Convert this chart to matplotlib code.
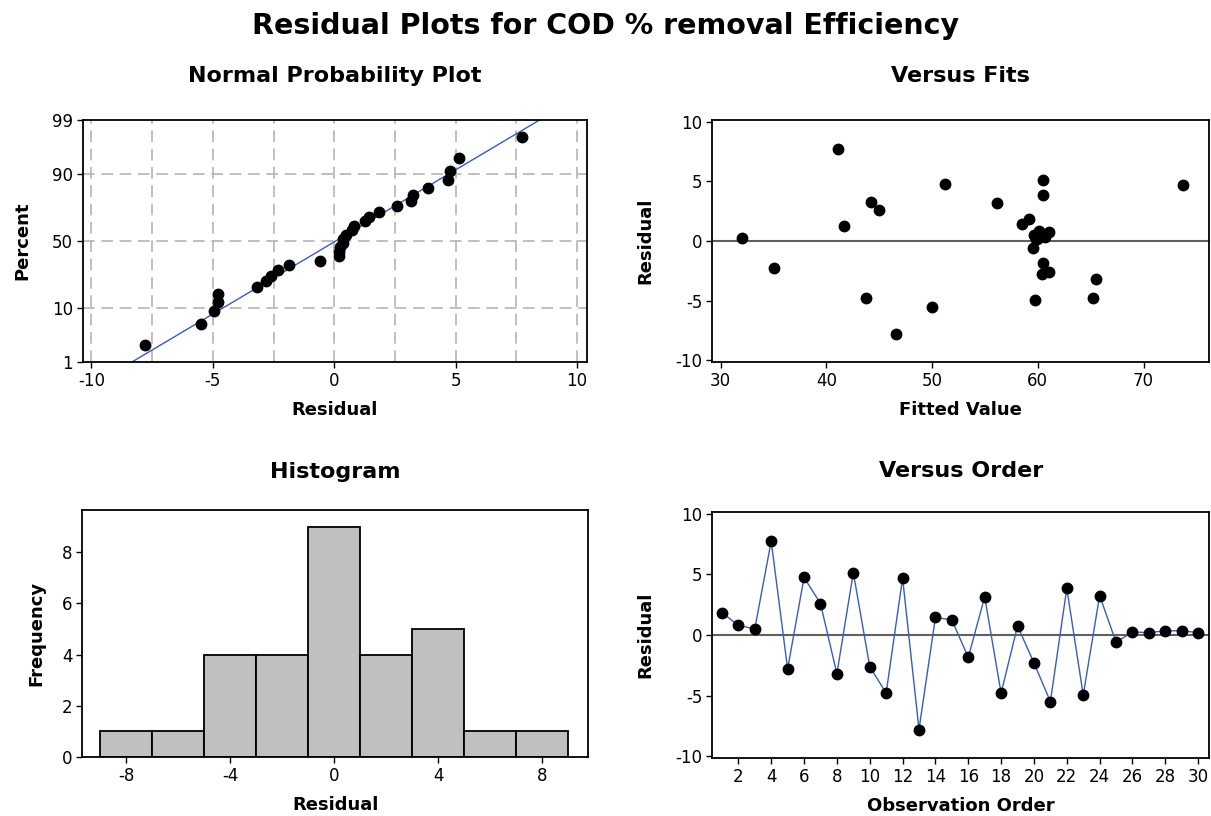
import numpy as np
import matplotlib
matplotlib.use("Agg")
import matplotlib.pyplot as plt
from matplotlib.ticker import NullLocator, FixedLocator
from statistics import NormalDist

# Residuals in observation order and the matching fitted values
residuals = [1.85, 0.8, 0.5, 7.75, -2.8, 4.75, 2.6, -3.2, 5.15, -2.6,
             -4.8, 4.7, -7.8, 1.45, 1.25, -1.85, 3.15, -4.8, 0.75, -2.3,
             -5.5, 3.85, -4.95, 3.25, -0.6, 0.25, 0.2, 0.35, 0.35, 0.2]
fitted = [59.2, 60.1, 59.6, 41.1, 60.4, 51.2, 45.0, 65.5, 60.5, 61.05,
          43.8, 73.7, 46.6, 58.5, 41.7, 60.5, 56.1, 65.2, 61.05, 35.1,
          49.96, 60.5, 59.7, 44.2, 59.5, 32.07, 59.8, 60.2, 60.7, 59.9]
hist_bins = [-9, -7, -5, -3, -1, 1, 3, 5, 7, 9]
pct_ticks = [1, 10, 50, 90, 99]

res = np.array(residuals)
fit = np.array(fitted)
n = len(res)
order = np.arange(1, n + 1)

plt.rcParams["font.family"] = "DejaVu Sans"
plt.rcParams["axes.unicode_minus"] = False
LINE_BLUE = "#3a5bc0"

fig = plt.figure(figsize=(12.11, 8.16), dpi=100)
fig.text(0.5, 0.968, "Residual Plots for COD % removal Efficiency",
         ha="center", va="center", fontsize=20.5, fontweight="bold")


def set_ticks(ax, axis, values):
    labels_ = [str(int(v)) for v in values]
    if axis == "x":
        ax.set_xticks(values)
        ax.set_xticklabels(labels_)
    else:
        ax.set_yticks(values)
        ax.set_yticklabels(labels_)


def style(ax):
    for s in ax.spines.values():
        s.set_linewidth(1.3)
        s.set_color("black")
    ax.tick_params(direction="out", length=4, width=1, labelsize=12,
                   top=False, right=False, pad=3)


def labels(ax, title, xl, yl, tpad=27, ypad=16):
    ax.set_title(title, fontsize=16, fontweight="bold", pad=tpad)
    ax.set_xlabel(xl, fontsize=13, fontweight="bold", labelpad=8)
    ax.set_ylabel(yl, fontsize=13, fontweight="bold", labelpad=ypad)


# ---------- Normal probability plot ----------
nd = NormalDist()


def fwd(p):
    p = np.clip(np.asarray(p, dtype=float), 1e-9, 100 - 1e-9)
    return np.vectorize(lambda v: nd.inv_cdf(v / 100.0), otypes=[float])(p)


def inv(z):
    z = np.asarray(z, dtype=float)
    return np.vectorize(lambda v: nd.cdf(v) * 100.0, otypes=[float])(z)


ax1 = fig.add_axes([0.0685, 0.5564, 0.416, 0.2966])
ax1.set_yscale("function", functions=(fwd, inv))
sorted_res = np.sort(res)
pct = (np.arange(1, n + 1) - 0.3) / (n + 0.4) * 100
mu, sd = res.mean(), res.std(ddof=1)
p_line = np.linspace(1, 99, 200)
x_line = mu + sd * np.array([nd.inv_cdf(p / 100) for p in p_line])
for xv in np.arange(-10, 10.01, 2.5):
    ax1.axvline(xv, color="#b4b4b4", lw=1.2, dashes=(7, 4), zorder=0)
for yv in [10, 50, 90]:
    ax1.axhline(yv, color="#b4b4b4", lw=1.2, dashes=(7, 4), zorder=0)
ax1.plot(x_line, p_line, color=LINE_BLUE, lw=1, zorder=2)
ax1.plot(sorted_res, pct, "o", color="black", ms=7.5, zorder=3)
ax1.set_xlim(-10.35, 10.4)
ax1.set_ylim(1, 99)
ax1.yaxis.set_major_locator(FixedLocator(pct_ticks))
ax1.yaxis.set_minor_locator(NullLocator())
ax1.set_yticklabels([str(t) for t in pct_ticks])
set_ticks(ax1, "x", [-10, -5, 0, 5, 10])
style(ax1)
labels(ax1, "Normal Probability Plot", "Residual", "Percent", ypad=15)

# ---------- Versus fits ----------
ax2 = fig.add_axes([0.588, 0.5564, 0.4105, 0.2966])
ax2.axhline(0, color="#606060", lw=1.5, zorder=1)
ax2.plot(fit, res, "o", color="black", ms=7.5, zorder=3)
ax2.set_xlim(29.2, 76.2)
ax2.set_ylim(-10.15, 10.15)
set_ticks(ax2, "x", [30, 40, 50, 60, 70])
set_ticks(ax2, "y", [-10, -5, 0, 5, 10])
style(ax2)
labels(ax2, "Versus Fits", "Fitted Value", "Residual", ypad=15)

# ---------- Histogram ----------
ax3 = fig.add_axes([0.0677, 0.0723, 0.418, 0.3027])
ax3.hist(res, bins=hist_bins, color="#c0c0c0", edgecolor="black", linewidth=1.3)
ax3.set_xlim(-9.7, 9.77)
ax3.set_ylim(0, 9.65)
set_ticks(ax3, "x", [-8, -4, 0, 4, 8])
set_ticks(ax3, "y", [0, 2, 4, 6, 8])
style(ax3)
labels(ax3, "Histogram", "Residual", "Frequency", tpad=23, ypad=12)

# ---------- Versus order ----------
ax4 = fig.add_axes([0.588, 0.0711, 0.4105, 0.3014])
ax4.axhline(0, color="#606060", lw=1.5, zorder=1)
ax4.plot(order, res, color=LINE_BLUE, lw=1, zorder=2)
ax4.plot(order, res, "o", color="black", ms=7.5, zorder=3)
ax4.set_xlim(0.4, 30.67)
ax4.set_ylim(-10.15, 10.15)
set_ticks(ax4, "x", list(range(2, 31, 2)))
set_ticks(ax4, "y", [-10, -5, 0, 5, 10])
style(ax4)
labels(ax4, "Versus Order", "Observation Order", "Residual", tpad=25, ypad=15)

fig.savefig("out.png", dpi=100)
